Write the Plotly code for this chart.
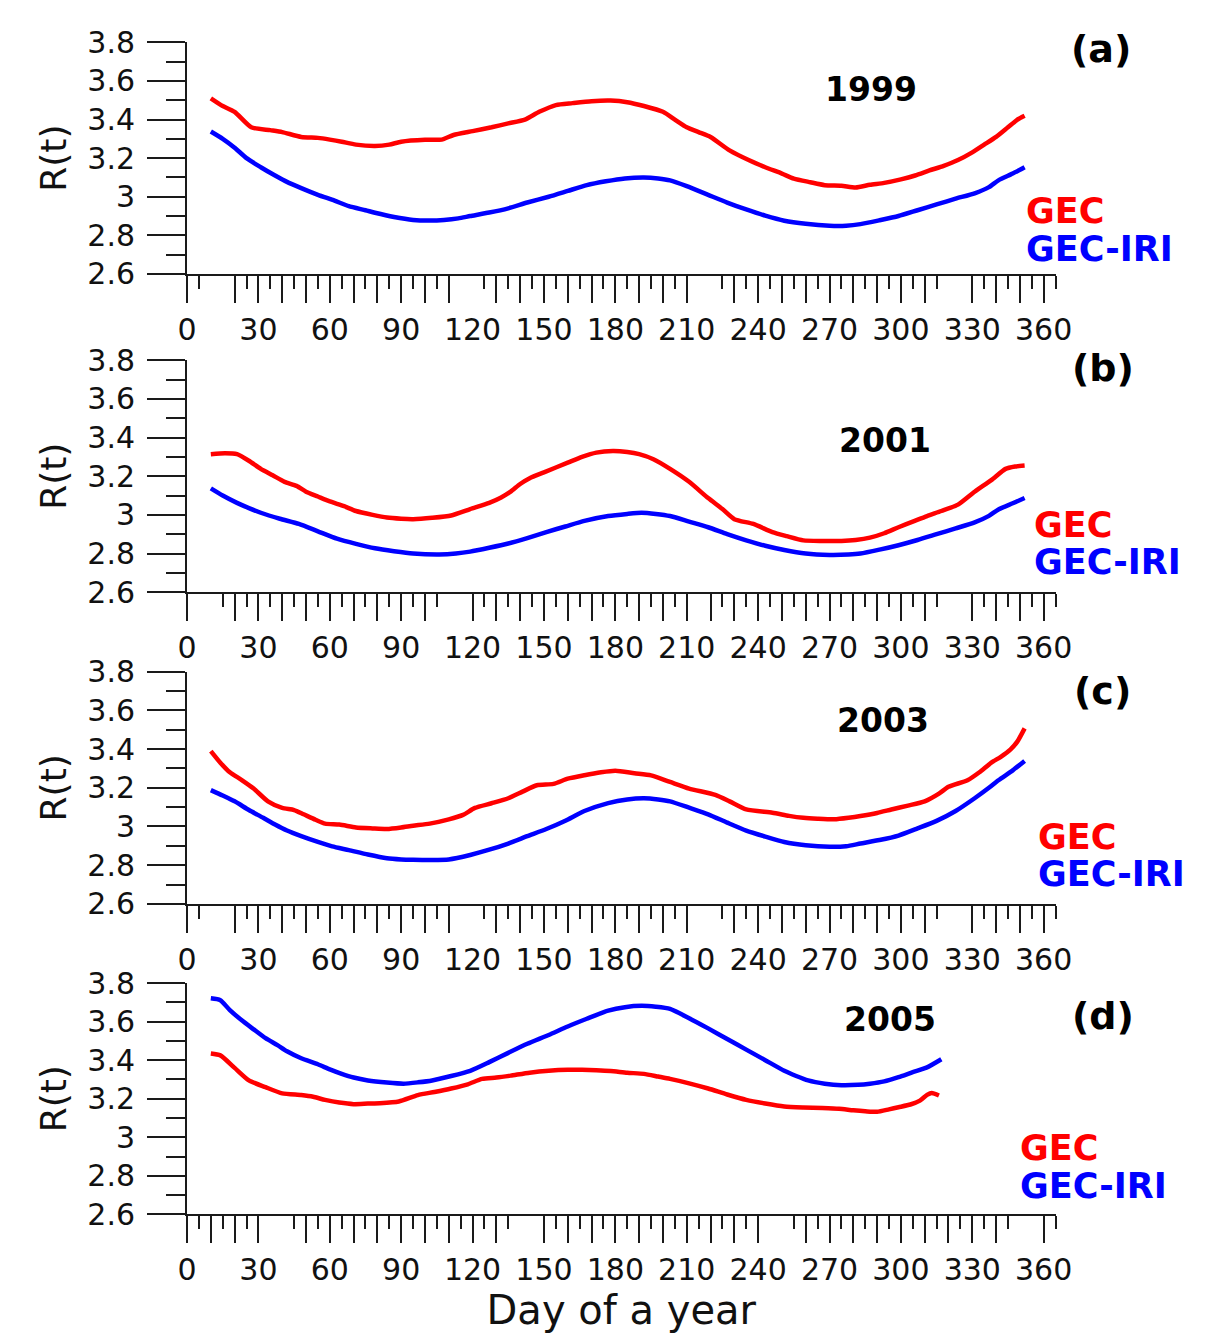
import plotly.graph_objects as go

# ---------------- data ----------------
# Panel (a) 1999
a_gec_day = [10, 15, 20, 27, 35, 40, 48, 55, 60, 65, 71, 79, 85, 90, 100, 107, 112, 120, 128, 135,
             142, 148, 155, 162, 170, 178, 185, 192, 200, 205, 210, 215, 220, 228, 236, 243, 250, 255,
             262, 268, 275, 281, 287, 293, 300, 306, 312, 318, 324, 330, 335, 340, 345, 349, 352]
a_gec = [3.51, 3.47, 3.44, 3.36, 3.345, 3.335, 3.31, 3.305, 3.296, 3.285, 3.27, 3.263, 3.27, 3.285,
         3.295, 3.296, 3.32, 3.34, 3.36, 3.38, 3.40, 3.44, 3.475, 3.485, 3.495, 3.498, 3.49, 3.47,
         3.44, 3.40, 3.36, 3.335, 3.31, 3.24, 3.19, 3.153, 3.12, 3.094, 3.075, 3.06, 3.057, 3.048,
         3.062, 3.072, 3.09, 3.11, 3.136, 3.16, 3.19, 3.23, 3.27, 3.31, 3.36, 3.40, 3.42]
a_iri_day = [10, 15, 20, 25, 31, 37, 42, 48, 55, 62, 68, 75, 79, 87, 95, 102, 108, 114, 119, 127,
             135, 143, 152, 160, 168, 176, 184, 192, 198, 203, 210, 219, 227, 235, 243, 251, 260,
             270, 277, 283, 291, 299, 307, 315, 323, 331, 337, 341, 347, 352]
a_iri = [3.338, 3.30, 3.254, 3.20, 3.153, 3.11, 3.077, 3.045, 3.01, 2.98, 2.951, 2.93, 2.917, 2.895,
         2.88, 2.877, 2.88, 2.888, 2.90, 2.918, 2.94, 2.97, 3.0, 3.03, 3.06, 3.08, 3.095, 3.10, 3.095,
         3.085, 3.055, 3.01, 2.97, 2.934, 2.902, 2.876, 2.86, 2.85, 2.85, 2.858, 2.878, 2.90, 2.93,
         2.96, 2.99, 3.018, 3.05, 3.085, 3.12, 3.153]

# Panel (b) 2001
b_gec_day = [10, 16, 21, 26, 31, 36, 41, 46, 50, 55, 60, 66, 71, 78, 84, 90, 95, 103, 111, 119, 127,
             132, 136, 140, 144, 150, 160, 166, 172, 179, 185, 190, 196, 203, 211, 219, 225, 230, 238,
             246, 252, 259, 267, 275, 281, 287, 293, 299, 305, 311, 317, 324, 331, 338, 344, 348, 352]
b_gec = [3.314, 3.319, 3.314, 3.28, 3.238, 3.205, 3.171, 3.15, 3.12, 3.095, 3.07, 3.045, 3.02, 3.0,
         2.986, 2.98, 2.978, 2.985, 2.997, 3.03, 3.062, 3.09, 3.12, 3.16, 3.19, 3.22, 3.27, 3.30,
         3.322, 3.33, 3.325, 3.314, 3.288, 3.238, 3.171, 3.087, 3.03, 2.978, 2.953, 2.911, 2.89,
         2.868, 2.865, 2.865, 2.87, 2.882, 2.905, 2.936, 2.965, 2.994, 3.02, 3.053, 3.12, 3.18,
         3.238, 3.25, 3.255]
b_iri_day = [10, 15, 21, 26, 31, 39, 47, 55, 63, 71, 79, 87, 95, 106, 113, 119, 127, 135, 143, 151,
             159, 167, 177, 185, 191, 197, 203, 211, 219, 227, 235, 243, 251, 260, 270, 278, 283,
             291, 299, 307, 315, 323, 331, 337, 341, 347, 352]
b_iri = [3.137, 3.10, 3.062, 3.035, 3.011, 2.98, 2.953, 2.915, 2.877, 2.85, 2.827, 2.812, 2.80,
         2.795, 2.80, 2.81, 2.83, 2.852, 2.88, 2.911, 2.94, 2.969, 2.994, 3.005, 3.011, 3.005, 2.994,
         2.965, 2.936, 2.90, 2.868, 2.84, 2.818, 2.80, 2.793, 2.795, 2.80, 2.82, 2.843, 2.87, 2.90,
         2.93, 2.961, 2.995, 3.028, 3.06, 3.087]

# Panel (c) 2003
c_gec_day = [10, 14, 18, 23, 28, 34, 40, 45, 49, 54, 58, 64, 71, 78, 84, 90, 95, 102, 110, 116, 121,
             128, 135, 141, 147, 154, 160, 167, 174, 180, 188, 195, 203, 211, 222, 228, 235, 246, 253,
             259, 265, 272, 278, 283, 290, 296, 303, 310, 316, 320, 328, 333, 338, 342, 346, 349, 352]
c_gec = [3.39, 3.33, 3.28, 3.24, 3.196, 3.13, 3.096, 3.085, 3.063, 3.035, 3.015, 3.01, 2.995, 2.99,
         2.987, 2.995, 3.004, 3.015, 3.037, 3.06, 3.096, 3.12, 3.146, 3.18, 3.213, 3.22, 3.247, 3.265,
         3.28, 3.288, 3.275, 3.264, 3.23, 3.196, 3.163, 3.13, 3.088, 3.071, 3.055, 3.045, 3.04, 3.037,
         3.045, 3.054, 3.07, 3.088, 3.108, 3.13, 3.17, 3.205, 3.239, 3.28, 3.33, 3.36, 3.397, 3.44,
         3.507]
c_iri_day = [10, 15, 20, 26, 32, 37, 42, 48, 55, 61, 68, 76, 84, 90, 95, 103, 110, 119, 127, 135,
             143, 151, 159, 167, 177, 185, 192, 198, 203, 211, 219, 227, 235, 243, 251, 260, 270,
             277, 283, 291, 299, 307, 315, 323, 331, 337, 341, 347, 352]
c_iri = [3.188, 3.16, 3.13, 3.085, 3.045, 3.01, 2.979, 2.95, 2.92, 2.897, 2.878, 2.855, 2.836, 2.83,
         2.828, 2.827, 2.83, 2.853, 2.88, 2.912, 2.95, 2.987, 3.03, 3.08, 3.121, 3.14, 3.146, 3.14,
         3.13, 3.097, 3.063, 3.02, 2.979, 2.948, 2.92, 2.903, 2.895, 2.898, 2.912, 2.93, 2.953, 2.99,
         3.029, 3.08, 3.146, 3.2, 3.239, 3.29, 3.339]

# Panel (d) 2005
d_gec_day = [10, 14, 20, 26, 33, 40, 48, 53, 58, 64, 70, 76, 81, 89, 97, 104, 111, 118, 124, 130,
             136, 144, 152, 160, 166, 172, 178, 185, 192, 198, 203, 211, 219, 227, 235, 243, 251,
             259, 267, 274, 280, 285, 290, 295, 299, 304, 308, 311, 313, 316]
d_gec = [3.435, 3.425, 3.36, 3.295, 3.26, 3.228, 3.219, 3.21, 3.194, 3.18, 3.172, 3.175, 3.177,
         3.186, 3.219, 3.235, 3.253, 3.275, 3.303, 3.31, 3.32, 3.335, 3.345, 3.35, 3.35, 3.348,
         3.344, 3.335, 3.329, 3.315, 3.303, 3.28, 3.253, 3.222, 3.194, 3.175, 3.16, 3.155, 3.152,
         3.148, 3.14, 3.135, 3.132, 3.145, 3.156, 3.17, 3.19, 3.22, 3.23, 3.217]
d_iri_day = [10, 14, 18, 23, 28, 33, 38, 42, 48, 55, 60, 65, 70, 76, 84, 91, 97, 103, 111, 119, 127,
             135, 143, 152, 160, 168, 177, 184, 191, 197, 203, 211, 219, 227, 235, 243, 251, 256,
             261, 268, 275, 282, 287, 293, 299, 305, 311, 317]
d_iri = [3.721, 3.711, 3.66, 3.607, 3.56, 3.514, 3.478, 3.446, 3.41, 3.379, 3.352, 3.329, 3.31,
         3.295, 3.284, 3.278, 3.285, 3.295, 3.318, 3.345, 3.39, 3.438, 3.485, 3.531, 3.575, 3.615,
         3.657, 3.675, 3.682, 3.677, 3.666, 3.618, 3.565, 3.51, 3.455, 3.40, 3.345, 3.318, 3.295,
         3.278, 3.27, 3.272, 3.278, 3.29, 3.312, 3.338, 3.363, 3.405]

panel_letters = ["(a)", "(b)", "(c)", "(d)"]
panel_years = ["1999", "2001", "2003", "2005"]
series_names = ["GEC", "GEC-IRI"]

x_tick_labels = [0, 30, 60, 90, 120, 150, 180, 210, 240, 270, 300, 330, 360]
y_tick_vals = [2.6, 2.8, 3.0, 3.2, 3.4, 3.6, 3.8]
y_tick_text = ["2.6", "2.8", "3", "3.2", "3.4", "3.6", "3.8"]
y_minor_vals = [2.7, 2.9, 3.1, 3.3, 3.5, 3.7]

# day-marks along the x axis (every 5 days, some absent)
all_marks = list(range(0, 366, 5))
missing_marks = [
    [10, 15, 115, 120, 215, 220, 320, 325],
    [5, 10, 110, 115, 215, 320, 325],
    [10, 15, 115, 120, 215, 220, 320, 325],
    [35, 40, 140, 145, 245, 250, 350, 355],
]

gec_days = [a_gec_day, b_gec_day, c_gec_day, d_gec_day]
gec_vals = [a_gec, b_gec, c_gec, d_gec]
iri_days = [a_iri_day, b_iri_day, c_iri_day, d_iri_day]
iri_vals = [a_iri, b_iri, c_iri, d_iri]

# ---------------- layout geometry ----------------
W, H = 1231, 1343
X0, X1 = 181, 1069
panel_px = [(25, 263), (351.7, 590), (671.7, 910.3), (991.7, 1229.3)]  # (top, bottom) in px

# annotation positions (px): letter, year, GEC label, GEC-IRI label
letter_pos = [(1115, 32), (1117, 360), (1117, 692), (1118, 1025)]
year_pos = [(880, 73), (895, 434), (893, 722), (900, 1029)]
legend_left = [1037, 1045, 1049, 1031]
gec_y = [198, 521, 842, 1161]
iri_y = [237, 559, 880, 1200]

TICK_COLOR = "#1a1a1a"
FONT = "DejaVu Sans"
tickfont = dict(family=FONT, size=30, color="#111")

fig = go.Figure()
layout = dict(
    width=W, height=H, margin=dict(l=0, r=0, t=0, b=0),
    paper_bgcolor="white", plot_bgcolor="white", showlegend=False,
    annotations=[],
)

for i in range(4):
    n = i + 1
    xa = "x" if n == 1 else f"x{n}"
    ya = "y" if n == 1 else f"y{n}"
    m = n + 4
    top, bot = panel_px[i]

    fig.add_trace(go.Scatter(x=gec_days[i], y=gec_vals[i], xaxis=xa, yaxis=ya, mode="lines",
                             name=series_names[0],
                             line=dict(color="#ff0000", width=4.5, shape="spline", smoothing=0.6)))
    fig.add_trace(go.Scatter(x=iri_days[i], y=iri_vals[i], xaxis=xa, yaxis=ya, mode="lines",
                             name=series_names[1],
                             line=dict(color="#0000ff", width=4.5, shape="spline", smoothing=0.6)))
    fig.add_trace(go.Scatter(x=[None], y=[None], xaxis=f"x{m}", yaxis=ya, mode="lines",
                             hoverinfo="skip", showlegend=False))

    marks = [d for d in all_marks if d not in missing_marks[i]]
    long_marks = [d for d in marks if d % 10 == 0]
    short_marks = [d for d in marks if d % 10 != 0]

    xdom = [X0 / W, X1 / W]
    ydom = [1 - bot / H, 1 - top / H]

    layout["xaxis" if n == 1 else f"xaxis{n}"] = dict(
        domain=xdom, range=[0, 365], anchor=ya, showline=True, linecolor=TICK_COLOR, linewidth=2,
        showgrid=False, zeroline=False, ticks="outside", tickmode="array", tickvals=long_marks,
        ticklen=27, tickwidth=2, tickcolor=TICK_COLOR, showticklabels=False,
        minor=dict(tickmode="array", tickvals=short_marks, ticks="outside", ticklen=13,
                   tickwidth=2, tickcolor=TICK_COLOR, showgrid=False),
    )
    ov = dict(
        overlaying=xa, anchor=ya, side="bottom", range=[0, 365], showline=False, showgrid=False,
        zeroline=False, ticks="", tickmode="array", tickvals=x_tick_labels,
        ticktext=[str(v) for v in x_tick_labels], tickfont=tickfont, ticklabelstandoff=35,
    )
    if n == 4:
        ov["title"] = dict(text="Day of a year", font=dict(family=FONT, size=40, color="#111"),
                           standoff=0)
    layout[f"xaxis{m}"] = ov

    layout["yaxis" if n == 1 else f"yaxis{n}"] = dict(
        domain=ydom, range=[2.6, 3.8], anchor=xa, showline=True, linecolor=TICK_COLOR,
        linewidth=2, showgrid=False, zeroline=False, ticks="outside", tickmode="array",
        tickvals=y_tick_vals, ticktext=y_tick_text, ticklen=38, tickwidth=2, tickcolor=TICK_COLOR,
        tickfont=tickfont, ticklabelstandoff=6,
        minor=dict(tickmode="array", tickvals=y_minor_vals, ticks="outside", ticklen=19,
                   tickwidth=2, tickcolor=TICK_COLOR, showgrid=False),
        title=dict(text="R(t)", font=dict(family=FONT, size=36, color="#111"), standoff=10),
    )

    lx, ly = letter_pos[i]
    layout["annotations"].append(dict(
        text=f"<b>{panel_letters[i]}</b>", x=lx / W, y=1 - ly / H, xref="paper", yref="paper",
        showarrow=False, xanchor="center", yanchor="middle",
        font=dict(family=FONT, size=38, color="#000")))
    yx, yy = year_pos[i]
    layout["annotations"].append(dict(
        text=f"<b>{panel_years[i]}</b>", x=yx / W, y=1 - yy / H, xref="paper", yref="paper",
        showarrow=False, xanchor="center", yanchor="middle",
        font=dict(family=FONT, size=33, color="#000")))
    layout["annotations"].append(dict(
        text=f"<b>{series_names[0]}</b>", x=legend_left[i] / W, y=1 - gec_y[i] / H, xref="paper",
        yref="paper", showarrow=False, xanchor="left", yanchor="middle",
        font=dict(family=FONT, size=35, color="#ff0000")))
    layout["annotations"].append(dict(
        text=f"<b>{series_names[1]}</b>", x=legend_left[i] / W, y=1 - iri_y[i] / H, xref="paper",
        yref="paper", showarrow=False, xanchor="left", yanchor="middle",
        font=dict(family=FONT, size=35, color="#0000ff")))

fig.update_layout(**layout)
fig.write_html("out.html")
